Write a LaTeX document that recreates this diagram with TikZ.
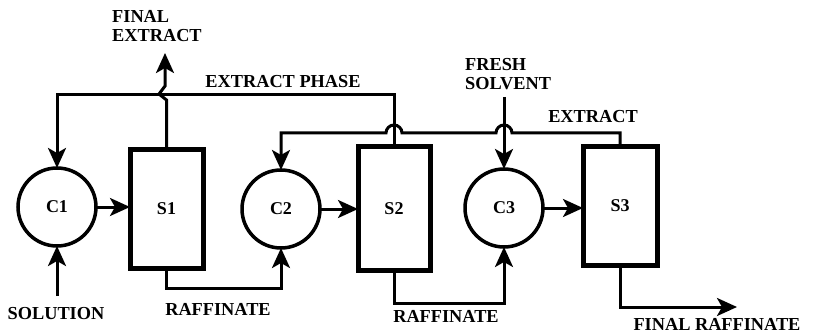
\documentclass[tikz,border=0pt]{standalone}
\usepackage{fontspec}
\setmainfont{Liberation Serif}
\usetikzlibrary{arrows.meta}
\begin{document}
\begin{tikzpicture}[x=1pt,y=-1pt,
  mix/.style={circle,draw,line width=3.5pt,minimum size=78pt,inner sep=0pt,outer sep=0pt,font=\fontsize{18}{20}\selectfont\bfseries},
  sep/.style={rectangle,draw,line width=5pt,inner sep=0pt,outer sep=0pt,font=\fontsize{18}{20}\selectfont\bfseries},
  lbl/.style={font=\fontsize{18.3}{20}\selectfont\bfseries,inner sep=0pt,align=left},
  flow/.style={line width=3pt},
  arr/.style={flow,-{Stealth[length=20pt,width=18pt,inset=5pt]}}]
\useasboundingbox (0,0) rectangle (817,334);
% units
\node[mix] (C1) at (57,207) {C1};
\node[mix] (C2) at (281,209) {C2};
\node[mix] (C3) at (504,208) {C3};
\node[sep,minimum width=73pt,minimum height=118pt] (S1) at (166.5,209) {S1};
\node[sep,minimum width=72pt,minimum height=123pt] (S2) at (394,208.5) {S2};
\node[sep,minimum width=74pt,minimum height=118pt] (S3) at (620,206) {S3};
% feed
\coordinate (solin) at (57,296);
\draw[arr] (solin) -- (C1.south);
\node[lbl] (sol) at (56,314) {SOLUTION};
% mixers to settlers
\draw[arr] (C1.east) -- (S1.west |- C1.east);
\draw[arr] (C2.east) -- (S2.west |- C2.east);
\draw[arr] (C3.east) -- (S3.west |- C3.east);
% raffinates
\draw[arr] (S1.south) -- (166.5,288) -- (C2.south |- 0,288) -- (C2.south);
\node[lbl] (r1) at (218,309) {RAFFINATE};
\draw[arr] (S2.south) -- (394,303) -- (C3.south |- 0,303) -- (C3.south);
\node[lbl] (r2) at (446,316) {RAFFINATE};
\coordinate (frout) at (737,307);
\draw[arr] (S3.south) -- (S3.south |- frout) -- (frout);
\node[lbl] (fr) at (717,324) {FINAL RAFFINATE};
% final extract
\coordinate (feout) at (165,53);
\draw[arr] (S1.north) -- (166.5,100) -- (159,94) -- (165,86) -- (feout);
\node[lbl,anchor=north west] (fe) at (112,10) {FINAL\\[-1pt]EXTRACT};
% extract phase loop
\draw[arr] (S2.north) -- (394,95) -- (C1.north |- 0,95) -- (C1.north);
\node[lbl] (ep) at (283,82) {EXTRACT PHASE};
% extract loop from S3 to C2 with hops
\draw[arr] (S3.north) -- (620,133) -- (512,133)
  arc[start angle=0,end angle=-180,radius=8] -- (402,133)
  arc[start angle=0,end angle=-180,radius=8] -- (C2.north |- 0,133) -- (C2.north);
\node[lbl] (ex) at (593,117) {EXTRACT};
% fresh solvent
\coordinate (fsin) at (504,97);
\draw[arr] (fsin) -- (C3.north);
\node[lbl,anchor=north west] (fs) at (465,58) {FRESH\\[-1pt]SOLVENT};
\end{tikzpicture}
\end{document}
